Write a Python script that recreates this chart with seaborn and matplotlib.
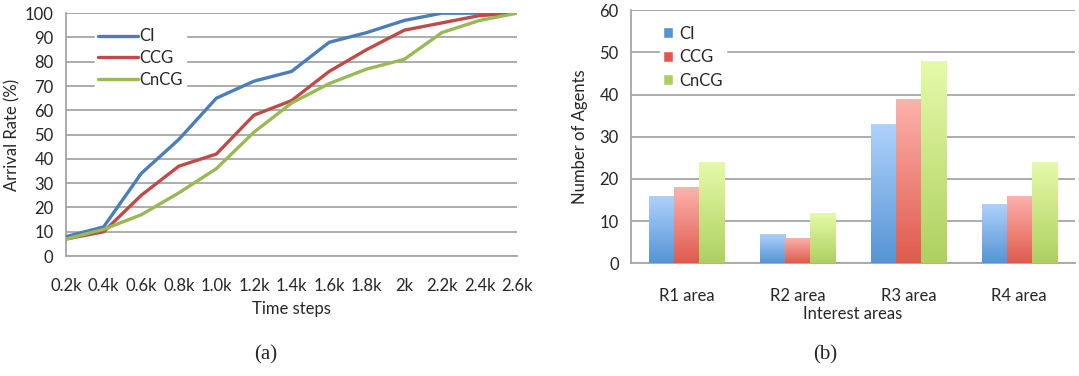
import numpy as np
import pandas as pd
import matplotlib
matplotlib.use("Agg")
import matplotlib.pyplot as plt
import seaborn as sns

# =====================================
# Data
# =====================================

time_labels = ["0.2k", "0.4k", "0.6k", "0.8k", "1.0k", "1.2k", "1.4k",
               "1.6k", "1.8k", "2k", "2.2k", "2.4k", "2.6k"]
ci_rate = [8, 12, 34, 48, 65, 72, 76, 88, 92, 97, 100, 100, 100]
ccg_rate = [7, 10, 25, 37, 42, 58, 64, 76, 85, 93, 96, 99, 100]
cncg_rate = [7, 11, 17, 26, 36, 51, 63, 71, 77, 81, 92, 97, 100]

areas = ["R1 area", "R2 area", "R3 area", "R4 area"]
ci_agents = [16, 7, 33, 14]
ccg_agents = [18, 6, 39, 16]
cncg_agents = [24, 12, 48, 24]

methods = ["CI", "CCG", "CnCG"]

# =====================================
# Setup
# =====================================

sns.set_style("white")
plt.rcParams["font.family"] = ["Lato", "DejaVu Sans"]

grid_c = "#a6a6a6"
line_colors = ["#4a7ebb", "#be4b48", "#98b954"]
bar_top = ["#b0d2fb", "#fdb3ad", "#e6fbaa"]
bar_bot = ["#5594d6", "#df5a4d", "#aed05f"]
fs = 12

fig = plt.figure(figsize=(10.79, 3.76), dpi=100)
ax1 = fig.add_axes([0.0612, 0.319, 0.418, 0.646])
ax2 = fig.add_axes([0.585, 0.300, 0.411, 0.673])

# =====================================
# Chart (a): arrival rate
# =====================================

line_df = pd.DataFrame({
    "step": np.tile(np.arange(len(time_labels)), 3),
    "rate": ci_rate + ccg_rate + cncg_rate,
    "method": np.repeat(methods, len(time_labels)),
})

sns.lineplot(
    data=line_df, x="step", y="rate", hue="method",
    palette=line_colors, linewidth=2.4, ax=ax1, zorder=3
)

ax1.set_xlim(0, len(time_labels) - 1)
ax1.set_ylim(0, 100)
ax1.set_yticks(range(0, 101, 10))
ax1.set_xticks(range(len(time_labels)))
ax1.set_xticklabels(time_labels)
ax1.yaxis.grid(True, color=grid_c, linewidth=1.3)
ax1.set_axisbelow(True)
for s in ["top", "right"]:
    ax1.spines[s].set_visible(False)
for s in ["left", "bottom"]:
    ax1.spines[s].set_color(grid_c)
    ax1.spines[s].set_linewidth(1.3)
ax1.tick_params(axis="both", direction="out", length=5, width=1.2,
                color=grid_c, labelsize=fs, pad=4)
ax1.tick_params(axis="x", pad=11)
ax1.set_xlabel("Time steps", fontsize=fs, labelpad=5)
ax1.set_ylabel("Arrival Rate (%)", fontsize=fs, labelpad=3)

ax1.legend(loc="upper left", bbox_to_anchor=(0.045, 0.985),
           frameon=True, fancybox=False, edgecolor="white",
           framealpha=1, fontsize=fs, handlelength=2.4,
           borderpad=0.2, labelspacing=0.35, handletextpad=0.1,
           title=None)

# =====================================
# Chart (b): agents per area
# =====================================

bar_df = pd.DataFrame({
    "area": areas * 3,
    "agents": ci_agents + ccg_agents + cncg_agents,
    "method": np.repeat(methods, len(areas)),
})

sns.barplot(
    data=bar_df, x="area", y="agents", hue="method",
    palette=bar_bot, width=0.68, ax=ax2, zorder=3
)

# gradient fill for each bar
grad = np.linspace(0, 1, 256).reshape(-1, 1)
for k, cont in enumerate(ax2.containers):
    cmap = matplotlib.colors.LinearSegmentedColormap.from_list(
        "g%d" % k, [bar_bot[k], bar_top[k]])
    for patch in cont:
        x0, y0 = patch.get_x(), patch.get_y()
        w, h = patch.get_width(), patch.get_height()
        patch.set_facecolor("none")
        patch.set_edgecolor("none")
        im = ax2.imshow(grad, extent=[x0, x0 + w, y0, y0 + h],
                        origin="lower", cmap=cmap, aspect="auto", zorder=3)
        im.set_clip_path(patch)
ax2.set_xlim(-0.5, len(areas) - 0.5)
ax2.set_ylim(0, 60)

ax2.set_yticks(range(0, 61, 10))
ax2.yaxis.grid(True, color=grid_c, linewidth=1.3)
ax2.set_axisbelow(True)
for s in ["top", "right"]:
    ax2.spines[s].set_visible(False)
for s in ["left", "bottom"]:
    ax2.spines[s].set_color(grid_c)
    ax2.spines[s].set_linewidth(1.3)
ax2.set_xticks(np.arange(-0.5, len(areas), 1.0), minor=True)
ax2.tick_params(axis="x", which="major", length=0, labelsize=fs, pad=18)
ax2.tick_params(axis="x", which="minor", direction="out", length=5,
                width=1.2, color=grid_c)
ax2.tick_params(axis="y", direction="out", length=5, width=1.2,
                color=grid_c, labelsize=fs, pad=4)
ax2.set_xlabel("Interest areas", fontsize=fs, labelpad=1)
ax2.set_ylabel("Number of Agents", fontsize=fs, labelpad=8)

handles = [matplotlib.patches.Patch(facecolor=c) for c in bar_bot]
ax2.legend(handles, methods, loc="upper left",
           bbox_to_anchor=(0.045, 0.985), frameon=True,
           fancybox=False, edgecolor="white", framealpha=1,
           fontsize=fs, handlelength=0.6, handleheight=0.6,
           borderpad=0.2, labelspacing=0.45, handletextpad=0.4)

# =====================================
# Panel captions
# =====================================

fig.text(0.246, 0.055, "(a)", ha="center", va="center",
         fontsize=15, family=["Liberation Serif"])
fig.text(0.765, 0.055, "(b)", ha="center", va="center",
         fontsize=15, family=["Liberation Serif"])

fig.savefig("out.png", dpi=100)
